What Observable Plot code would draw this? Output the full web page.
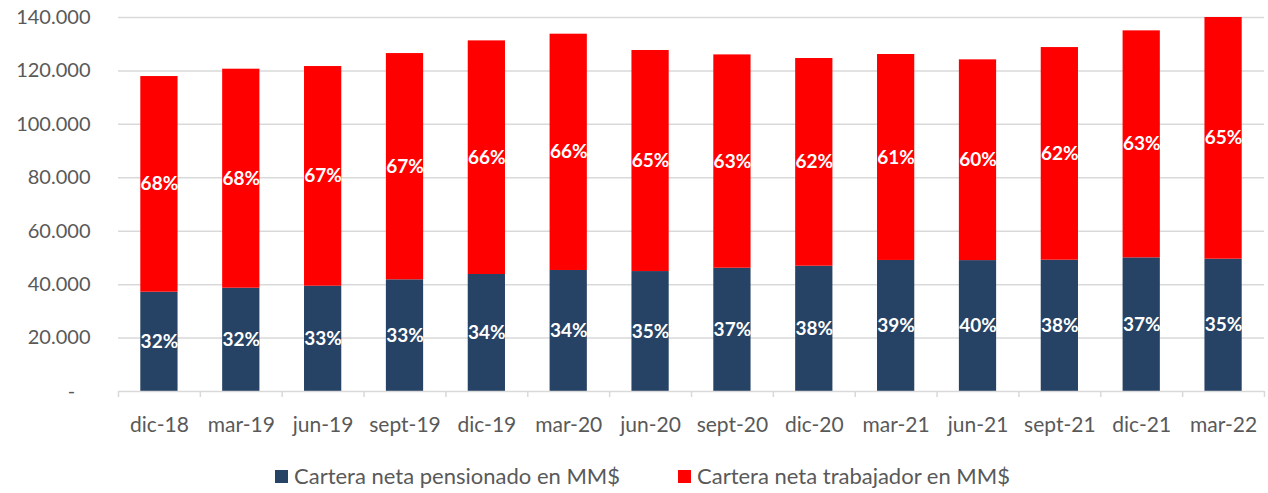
<!DOCTYPE html>
<html><head><meta charset="utf-8">
<script src="https://cdn.jsdelivr.net/npm/d3@7"></script>
<script src="https://cdn.jsdelivr.net/npm/@observablehq/plot@0.6"></script>
<style>
body{margin:0;background:#fff;font-family:Lato, "Open Sans", sans-serif;}
#wrap{position:relative;width:1268px;height:493px;overflow:hidden;}
.leg{position:absolute;top:464px;display:flex;align-items:center;font-size:22px;color:#595959;white-space:nowrap;line-height:24px;}
.sw{width:13px;height:13px;margin-right:6px;display:inline-block;}
</style></head><body><div id="wrap"></div>
<script>
const categories = ["dic-18","mar-19","jun-19","sept-19","dic-19","mar-20","jun-20","sept-20","dic-20","mar-21","jun-21","sept-21","dic-21","mar-22"];
const pensionado = [37170,38670,39420,41800,43800,45300,44900,46150,46900,49050,49000,49150,50030,49530];
const trabajador = [80730,81980,82230,84700,87450,88450,82750,79850,77750,77100,75150,79600,84970,90470];
const pctPensionado = [32,32,33,33,34,34,35,37,38,39,40,38,37,35];
const pctTrabajador = [68,68,67,67,66,66,65,63,62,61,60,62,63,65];
const yTicks = [0,20000,40000,60000,80000,100000,120000,140000];
const seriesNames = ["Cartera neta pensionado en MM$","Cartera neta trabajador en MM$"];
const seriesColors = ["#264264","#FF0000"];

const rows = categories.flatMap((c,i)=>[
  {cat:c, serie:seriesNames[0], value:pensionado[i], label:pctPensionado[i]+"%"},
  {cat:c, serie:seriesNames[1], value:trabajador[i], label:pctTrabajador[i]+"%"}
]);

const W = 1268, H = 445, ML = 118, MR = 4, MT = 17, MB = 54;
const step = (W - ML - MR) / categories.length;
const fmt = d => d === 0 ? "-\u00a0\u00a0\u00a0" : d3.format(",")(d).replace(/,/g, ".");

const chart = Plot.plot({
  width: W, height: H,
  marginLeft: ML, marginRight: MR, marginTop: MT, marginBottom: MB,
  style: {fontFamily: "Lato, 'Open Sans', sans-serif", background: "#fff"},
  x: {domain: categories, paddingInner: 0.545, paddingOuter: 0.2725, round: false, label: null},
  y: {domain: [0, 140000], label: null},
  color: {domain: seriesNames, range: seriesColors},
  marks: [
    Plot.gridY(yTicks.filter(d => d > 0), {stroke: "#d9d9d9", strokeOpacity: 1, strokeWidth: 1.5}),
    Plot.barY(rows, {x: "cat", y: "value", fill: "serie"}),
    Plot.ruleY([0], {stroke: "#d9d9d9", strokeWidth: 1.5}),
    Plot.ruleX(categories, {x: d => d, y1: 0, y2: 0, insetBottom: -6, dx: -step / 2, stroke: "#d9d9d9", strokeWidth: 1.5}),
    Plot.ruleX(categories.slice(-1), {x: d => d, y1: 0, y2: 0, insetBottom: -6, dx: step / 2, stroke: "#d9d9d9", strokeWidth: 1.5}),
    Plot.text(rows, Plot.stackY({x: "cat", y: "value", z: "serie", text: "label", fill: "white", fontWeight: "bold", fontSize: 19})),
    Plot.axisX({tickSize: 0, tickPadding: 26, fontSize: 21, fill: "#595959", label: null}),
    Plot.axisY(yTicks, {tickSize: 0, tickPadding: 28, tickFormat: fmt, fontSize: 20, fill: "#595959", label: null})
  ]
});
const wrap = document.getElementById("wrap");
wrap.appendChild(chart);

const lefts = [275, 678];
seriesNames.forEach((name, i) => {
  const item = document.createElement("div");
  item.className = "leg";
  item.style.left = lefts[i] + "px";
  const sw = document.createElement("span");
  sw.className = "sw";
  sw.style.background = seriesColors[i];
  const t = document.createElement("span");
  t.textContent = name;
  item.appendChild(sw); item.appendChild(t);
  wrap.appendChild(item);
});
</script></body></html>
